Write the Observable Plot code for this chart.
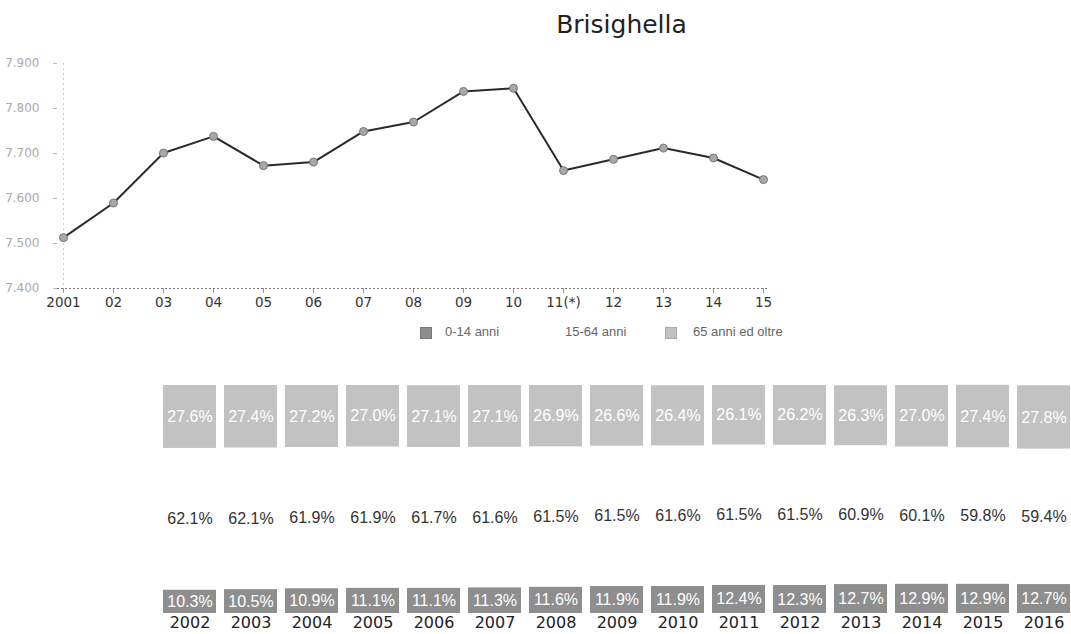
<!DOCTYPE html>
<html>
<head>
<meta charset="utf-8">
<script src="https://cdn.jsdelivr.net/npm/d3@7"></script>
<script src="https://cdn.jsdelivr.net/npm/@observablehq/plot@0.6"></script>
<style>
  body { margin: 0; background: #fff; width: 1071px; height: 634px; position: relative; overflow: hidden; font-family: "Liberation Sans", Arial, sans-serif; }
  #title { position: absolute; left: 0; top: 10px; width: 1243px; text-align: center; font-family: "DejaVu Sans", sans-serif; font-size: 25px; color: #222; }
  #line { position: absolute; left: 0; top: 50px; }
  #bars { position: absolute; left: 0; top: 370px; width: 1078px; }
  #bars svg { max-width: none !important; }
  .leg { position: absolute; font-size: 13px; color: #666; top: 324px; font-family: "Liberation Sans", Arial, sans-serif; }
  .sw { position: absolute; width: 10px; height: 10px; top: 327px; border: 1px solid #777; }
</style>
</head>
<body>
<div id="title">Brisighella</div>
<div id="line"></div>
<div class="sw" style="left:420px;background:#8e8e8e"></div>
<div class="leg" style="left:445px">0-14 anni</div>
<div class="leg" style="left:565px">15-64 anni</div>
<div class="sw" style="left:665px;background:#c2c2c2;border-color:#aaa"></div>
<div class="leg" style="left:693px">65 anni ed oltre</div>
<div id="bars"></div>
<script>
// Line chart data
const yearLabels = ["2001","02","03","04","05","06","07","08","09","10","11(*)","12","13","14","15"];
const population = [7513, 7590, 7701, 7738, 7673, 7681, 7749, 7770, 7838, 7845, 7662, 7687, 7712, 7690, 7642];
const yTicks = [7400, 7500, 7600, 7700, 7800, 7900];

// Age structure data
const barYears = ["2002","2003","2004","2005","2006","2007","2008","2009","2010","2011","2012","2013","2014","2015","2016"];
const groups = ["0-14 anni", "15-64 anni", "65 anni ed oltre"];
const age0_14 = [10.3,10.5,10.9,11.1,11.1,11.3,11.6,11.9,11.9,12.4,12.3,12.7,12.9,12.9,12.7];
const age15_64 = [62.1,62.1,61.9,61.9,61.7,61.6,61.5,61.5,61.6,61.5,61.5,60.9,60.1,59.8,59.4];
const age65 = [27.6,27.4,27.2,27.0,27.1,27.1,26.9,26.6,26.4,26.1,26.2,26.3,27.0,27.4,27.8];

const groupFill = {"0-14 anni": "#8e8e8e", "15-64 anni": "#ffffff", "65 anni ed oltre": "#c2c2c2"};
const groupText = {"0-14 anni": "#ffffff", "15-64 anni": "#333333", "65 anni ed oltre": "#ffffff"};

const lineData = yearLabels.map((y, i) => ({year: y, value: population[i]}));
const seriesByGroup = [age0_14, age15_64, age65];
const barData = [];
groups.forEach((g, gi) => barYears.forEach((y, i) => barData.push({year: y, group: g, value: seriesByGroup[gi][i]})));

const itFmt = d => d3.format(",")(d).replace(",", ".");

const line = Plot.plot({
  width: 800,
  height: 265,
  marginLeft: 57,
  marginRight: 32,
  marginTop: 13,
  marginBottom: 27,
  style: {fontFamily: "'DejaVu Sans', sans-serif", fontSize: "12px", background: "transparent"},
  x: {type: "point", domain: yearLabels, label: null, tickSize: 5, tickPadding: 4, padding: 0},
  y: {domain: [7400, 7900], ticks: yTicks, tickFormat: itFmt, label: null, tickSize: 4, tickPadding: 14},
  marks: [
    Plot.ruleY([7400], {stroke: "#777", strokeDasharray: "2,2"}),
    Plot.ruleX(["2001"], {stroke: "#ccc", strokeDasharray: "2,3"}),
    Plot.line(lineData, {x: "year", y: "value", stroke: "#2a2a2a", strokeWidth: 2}),
    Plot.dot(lineData, {x: "year", y: "value", r: 4, fill: "#a8a8a8", stroke: "#777", strokeWidth: 1})
  ]
});
document.getElementById("line").appendChild(line);
d3.select(line).selectAll('g[aria-label^="y-axis"] text').attr("fill", "#aaa");
d3.select(line).selectAll('g[aria-label^="y-axis"] line, g[aria-label^="y-axis"] path').attr("stroke", "#bbb");
d3.select(line).selectAll('g[aria-label^="x-axis"] text').attr("fill", "#333").style("font-size", "13.5px");
d3.select(line).selectAll('g[aria-label^="x-axis"] line, g[aria-label^="x-axis"] path').attr("stroke", "#999");

const stackOpts = {x: "year", y: "value", z: "group", order: groups};
const bars = Plot.plot({
  width: 1078,
  height: 264,
  marginLeft: 155,
  marginRight: 0,
  marginTop: 15,
  marginBottom: 21,
  style: {fontFamily: "'Liberation Sans', Arial, sans-serif", fontSize: "16px", background: "transparent", maxWidth: "none"},
  x: {domain: barYears, label: null, tickSize: 0, tickPadding: 3, padding: 0.131},
  y: {domain: [0, 100], axis: null},
  color: {type: "identity"},
  marks: [
    Plot.barY(barData, Plot.stackY({...stackOpts, fill: d => groupFill[d.group]})),
    Plot.text(barData, Plot.stackY({...stackOpts, text: d => d.value.toFixed(1) + "%", fill: d => groupText[d.group], fontSize: 16}))
  ]
});
document.getElementById("bars").appendChild(bars);
d3.select(bars).style("max-width", "none");
d3.select(bars).selectAll('g[aria-label^="x-axis"] text').attr("fill", "#222").style("font-size", "16px").style("font-family", "'DejaVu Sans', sans-serif");
</script>
</body>
</html>
